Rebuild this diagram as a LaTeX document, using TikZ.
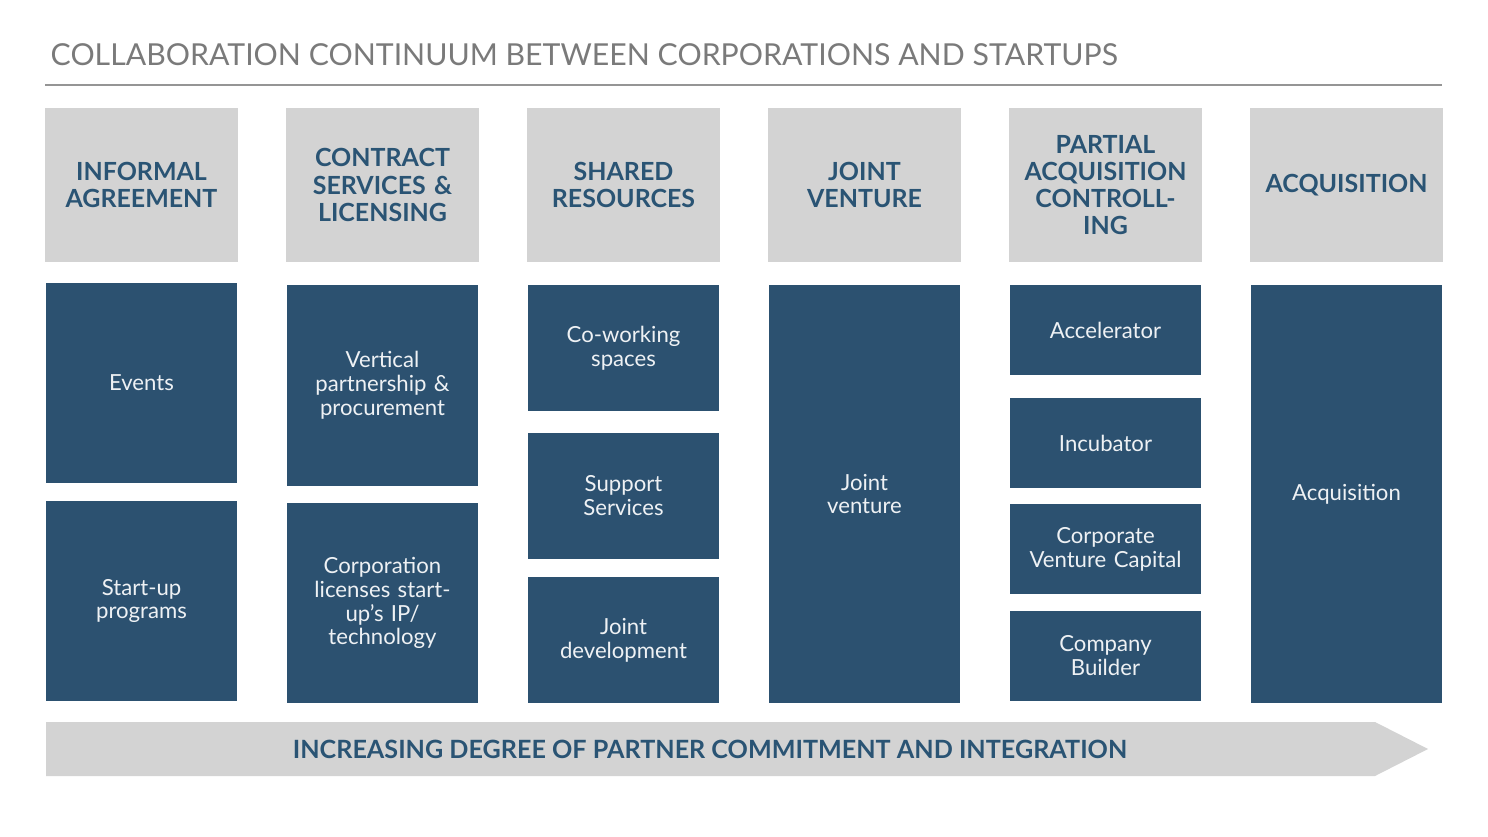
\documentclass[tikz,border=0pt]{standalone}
\usepackage{fontspec}
\setmainfont{Lato}
\usepackage{tikz}
\usetikzlibrary{positioning}

\definecolor{boxblue}{HTML}{2C5170}
\definecolor{headtext}{HTML}{2A5474}
\definecolor{headgray}{HTML}{D3D3D3}
\definecolor{titlegray}{HTML}{7A7A7A}

\begin{document}
\begin{tikzpicture}[x=0.01cm, y=-0.01cm,
  headbox/.style={fill=headgray, minimum width=1.93cm, minimum height=1.54cm,
    text width=1.8cm, align=center, text=headtext, inner sep=0pt,
    font=\fontsize{7.1}{7.7}\selectfont\bfseries},
  darkbox/.style={fill=boxblue, minimum width=1.9cm, text width=1.7cm,
    align=center, text=white!92!boxblue, inner sep=0pt,
    font=\fontsize{6.3}{6.8}\selectfont}]
\useasboundingbox (0,0) rectangle (1488,837);

% title and rule
\node[anchor=base west, text=titlegray, inner sep=0pt,
  font=\fontsize{8.6}{10}\selectfont] (title) at (50,66)
  {COLLABORATION CONTINUUM BETWEEN CORPORATIONS AND STARTUPS};
\draw[titlegray!80, line width=0.6pt] (45,85) -- (1442,85);

% column headers
\node[headbox] (h1) at (141.5,185) {INFORMAL\\AGREEMENT};
\node[headbox] (h2) at (382.5,185) {CONTRACT\\SERVICES \&\\LICENSING};
\node[headbox] (h3) at (623.5,185) {SHARED\\RESOURCES};
\node[headbox] (h4) at (864.5,185) {JOINT\\VENTURE};
\node[headbox] (h5) at (1105.5,185) {PARTIAL\\ACQUISITION\\CONTROLL-\\ING};
\node[headbox] (h6) at (1346.5,185) {ACQUISITION};

% informal agreement
\node[darkbox, minimum height=2.0cm] (events) at (141.5,383) {Events};
\node[darkbox, minimum height=2.0cm] (startup) at (141.5,601) {Start-up\\programs};

% contract services
\node[darkbox, minimum height=2.01cm] (vertical) at (382.5,385.5) {Vertical\\partnership \&\\procurement};
\node[darkbox, minimum height=2.0cm] (licenses) at (382.5,603) {Corporation\\licenses start-\\up's IP/\\technology};

% shared resources
\node[darkbox, minimum height=1.26cm] (cowork) at (623.5,348) {Co-working\\spaces};
\node[darkbox, minimum height=1.26cm] (support) at (623.5,496) {Support\\Services};
\node[darkbox, minimum height=1.26cm] (jointdev) at (623.5,640) {Joint\\development};

% joint venture
\node[darkbox, minimum height=4.18cm] (jv) at (864.5,494) {Joint\\venture};

% partial acquisition
\node[darkbox, minimum height=0.9cm] (accel) at (1105.5,330) {Accelerator};
\node[darkbox, minimum height=0.9cm] (incub) at (1105.5,443) {Incubator};
\node[darkbox, minimum height=0.9cm] (cvc) at (1105.5,549) {Corporate\\Venture Capital};
\node[darkbox, minimum height=0.9cm] (builder) at (1105.5,656) {Company\\Builder};

% acquisition
\node[darkbox, minimum height=4.18cm] (acq) at (1346.5,494) {Acquisition};

% bottom arrow
\fill[headgray] (46,722) -- (1375,722) -- (1428,749) -- (1375,776) -- (46,776) -- cycle;
\node[text=headtext, inner sep=0pt, font=\fontsize{7.15}{8}\selectfont\bfseries]
  (commit) at (710,749) {INCREASING DEGREE OF PARTNER COMMITMENT AND INTEGRATION};
\end{tikzpicture}
\end{document}
